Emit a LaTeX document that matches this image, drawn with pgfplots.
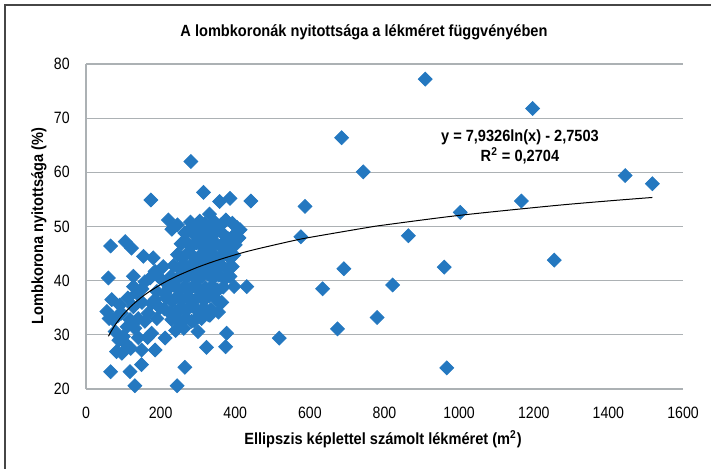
\documentclass[border=0pt]{standalone}
\usepackage{pgfplots}
\pgfplotsset{compat=1.18}
\usepackage{fontspec}
\setmainfont{Liberation Sans}
\newfontfamily\tickfont[FakeStretch=0.86]{Liberation Sans}
\newfontfamily\labfont[FakeStretch=0.9]{Liberation Sans}
\definecolor{mblue}{RGB}{36,120,192}
\definecolor{gridc}{RGB}{172,177,180}
\definecolor{framec}{RGB}{70,70,70}
\begin{document}
\begin{tikzpicture}[x=0.5pt,y=0.5pt]
\useasboundingbox (0,0) rectangle (711,469);
\draw[framec,line width=1pt] (5,0) -- (5,464) -- (711,464);
\begin{axis}[
  at={(43pt,40pt)}, anchor=south west,
  scale only axis, width=298.5pt, height=162.5pt,
  xmin=0, xmax=1600, ymin=20, ymax=80,
  xtick={0,200,...,1600}, ytick={20,30,...,80},
  axis x line=bottom, axis y line=left,
  axis line style={gridc, line width=0.6pt, -},
  ymajorgrids, major grid style={gridc, line width=0.6pt},
  major tick length=0pt,
  /pgf/number format/assume math mode=true,
  /pgf/number format/1000 sep={},
  ticklabel style={font=\tickfont\fontsize{8.2}{9}\selectfont, inner sep=0pt},
  xticklabel style={yshift=-9pt},
  yticklabel style={xshift=-8pt},
  clip=false, clip marker paths=true,
]
\addplot[only marks, mark=square*, mark size=2.45pt, color=mblue,
  mark options={rotate=45, fill=mblue, draw=mblue}] table {
x y
909 77.2
1197 71.8
685 66.4
743 60.1
1445 59.4
1518 57.9
1167 54.7
1003 52.6
587 53.7
576 48.1
864 48.3
960 42.5
1255 43.8
691 42.2
634 38.5
822 39.2
780 33.2
674 31.1
518 29.4
967 23.9
281 62.0
442 54.7
315 56.3
358 54.6
386 55.2
331 52.3
397 38.9
431 38.9
377 30.3
323 27.7
374 27.8
265 24.0
244 20.6
131 20.6
283 32.5
332 33.6
174 54.9
66 46.4
105 47.2
122 46.0
60 40.5
154 44.5
180 44.2
127 40.8
221 51.2
66 23.2
118 23.2
212 29.4
149 24.5
149 27.2
82 26.9
96 26.6
185 27.2
56 34.3
69 36.5
91 35.5
73 32.8
78 30.6
100 29.7
105 28.5
118 32.8
127 35.2
136 37.7
176 35.8
167 34.0
158 32.5
131 31.2
176 30.3
127 38.9
158 39.8
185 41.7
207 42.6
198 40.5
212 37.7
225 34.0
252 34.6
198 35.0
328 33.7
359 35.8
346 37.7
62 33.0
85 33.5
95 34.0
110 31.5
88 29.0
120 27.5
140 29.5
112 36.8
150 36.0
140 33.0
165 29.5
150 38.5
185 36.5
190 33.0
172 40.5
215 39.5
190 38.0
413 49.4
245 50.3
280 50.8
295 50.2
305 51.0
318 50.5
330 50.0
345 50.8
362 50.3
375 51.2
392 50.6
405 49.8
230 49.5
265 48.8
275 49.3
290 48.5
300 49.0
312 48.2
325 48.9
340 48.4
352 49.2
368 48.6
380 47.8
398 48.5
410 47.9
255 46.8
268 47.2
282 46.3
296 47.0
308 46.5
320 47.3
335 46.2
348 46.9
360 46.4
372 47.1
385 46.0
400 46.6
245 44.8
258 44.2
272 45.1
286 44.6
300 44.0
314 45.2
328 44.5
342 44.9
356 44.1
370 45.0
384 44.3
396 44.7
235 42.8
250 42.2
262 43.1
276 42.5
290 43.3
305 42.0
318 42.7
332 43.0
346 42.3
362 42.9
378 42.1
392 42.6
228 40.8
242 40.2
256 41.1
270 40.6
284 41.3
298 40.0
312 40.9
326 41.2
340 40.4
356 41.0
372 40.3
386 40.8
222 38.6
236 39.1
250 38.2
264 38.9
278 38.4
292 39.2
306 38.0
320 38.7
338 39.0
352 38.3
368 38.8
215 36.8
230 36.2
245 37.1
258 36.5
272 37.0
286 36.3
300 36.9
316 36.4
330 37.2
348 36.6
364 36.0
210 34.8
240 34.2
255 35.1
270 34.6
285 35.3
300 34.4
315 35.0
335 34.7
355 34.2
230 32.8
250 32.4
268 33.1
290 32.6
310 33.0
240 30.8
262 31.2
300 30.6
};
\addplot[black, line width=0.5pt, smooth] coordinates {
(60,29.73) (70,30.95) (80,32.01) (90,32.95) (100,33.78) (120,35.23) (130,35.86)
(150,37.00) (170,37.99) (200,39.28) (220,40.04) (250,41.05) (300,42.50) (350,43.72)
(400,44.78) (450,45.71) (550,47.30) (600,47.99) (750,49.76) (800,50.28) (1000,52.05)
(1250,53.82) (1400,54.72) (1518,55.36)};
\node[font=\labfont\bfseries\fontsize{8.1}{9}\selectfont, align=center, inner sep=0pt]
  at (axis cs:1163,64.7) {y = 7,9326ln(x) - 2,7503\\[1pt] R\textsuperscript{2} = 0,2704};
\end{axis}
\node[font=\labfont\bfseries\fontsize{8.1}{9}\selectfont, inner sep=0pt] at (364,437) {A lombkoronák nyitottsága a lékméret függvényében};
\node[font=\labfont\bfseries\fontsize{8.1}{9}\selectfont, inner sep=0pt] at (383,30) {Ellipszis képlettel számolt lékméret (m\textsuperscript{2})};
\node[font=\labfont\bfseries\fontsize{8.1}{9}\selectfont, inner sep=0pt, rotate=90] at (39,243) {Lombkorona nyitottsága (\%)};
\end{tikzpicture}
\end{document}
